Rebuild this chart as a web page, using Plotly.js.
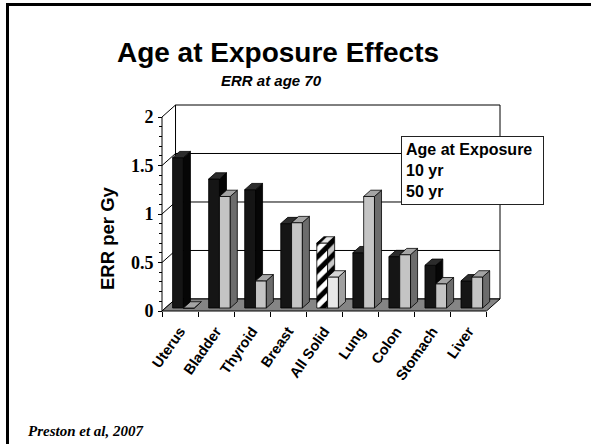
<!DOCTYPE html>
<html>
<head>
<meta charset="utf-8">
<script src="https://cdn.plot.ly/plotly-3.0.1.min.js"></script>
<style>html,body{margin:0;padding:0;background:#fff;}#chart{width:591px;height:444px;}</style>
</head>
<body>
<div id="chart"></div>
<script>
// ---- data ----
const categories = ["Uterus", "Bladder", "Thyroid", "Breast", "All Solid", "Lung", "Colon", "Stomach", "Liver"];
const err10yr = [1.55, 1.33, 1.22, 0.87, 0.67, 0.57, 0.53, 0.44, 0.28];
const err50yr = [0.00, 1.15, 0.28, 0.88, 0.32, 1.15, 0.55, 0.25, 0.32];
const yTickVals = [0, 0.5, 1, 1.5, 2];
const yTickText = ["0", "0.5", "1", "1.5", "2"];
const legendTitle = "Age at Exposure";
const seriesNames = ["10 yr", "50 yr"];

// ---- geometry of the pseudo-3D box (in axis units) ----
const N = categories.length;
const DX = 0.375, DY = 0.124;          // wall depth offset
const OX = 0.25 * DX, OY = 0.25 * DY;   // bar front face depth
const SX = 0.52 * DX, SY = 0.52 * DY;   // bar depth
const BW = 0.3;
const L = 160, T = 103, PW = 342, PH = 210;
const px2x = p => (p - L) / PW;
const py2y = p => (T + PH - p) / PH;
const allSolid = categories.indexOf("All Solid");

const series = [
  {name: seriesNames[0], vals: err10yr, left: 0.2, front: "#151515", side: "#060606", top: "#2c2c2c", z: 1,
   special: {front: "#ffffff", side: "#c8c8c8", top: "#e6e6e6", hatch: true}},
  {name: seriesNames[1], vals: err50yr, left: 0.5, front: "#c4c4c4", side: "#6c6c6c", top: "#a4a4a4", z: 3,
   special: {front: "#e8e8e8", side: "#a0a0a0", top: "#d4d4d4", hatch: false}}
];

const traces = [];
const hatch = {shape: "/", fgcolor: "#000", size: 10, solidity: 0.5, fillmode: "replace"};
series.forEach(s => {
  const idx = s.vals.map((v, k) => k).filter(k => !(k === allSolid && s.special.hatch));
  traces.push({
    type: "bar", name: s.name,
    x: idx.map(k => k + s.left + OX + BW / 2),
    y: idx.map(k => s.vals[k]), base: OY, width: BW,
    marker: {color: idx.map(k => k === allSolid ? s.special.front : s.front), line: {color: "#000", width: 0.8}},
    zorder: s.z, showlegend: false, hoverinfo: "skip"
  });
  if (s.special.hatch) {
    traces.push({
      type: "bar", name: s.name + " " + categories[allSolid],
      x: [allSolid + s.left + OX + BW / 2], y: [s.vals[allSolid]], base: OY, width: BW,
      marker: {color: "#ffffff", line: {color: "#000", width: 0.8},
               pattern: Object.assign({}, hatch, {bgcolor: "#ffffff"})},
      zorder: s.z, showlegend: false, hoverinfo: "skip"
    });
  }
  s.vals.forEach((v, k) => {
    const sp = k === allSolid;
    const xr = k + s.left + OX + BW, xl = xr - BW, t = OY + v;
    const side = {
      type: "scatter", mode: "lines", fill: "toself",
      x: [xr, xr + SX, xr + SX, xr, xr],
      y: [OY, OY + SY, t + SY, t, OY],
      fillcolor: sp ? s.special.side : s.side,
      line: {color: "#000", width: 0.8}, zorder: s.z + 1, showlegend: false, hoverinfo: "skip"
    };
    const top = {
      type: "scatter", mode: "lines", fill: "toself",
      x: [xl, xr, xr + SX, xl + SX, xl],
      y: [t, t, t + SY, t + SY, t],
      fillcolor: sp ? s.special.top : s.top,
      line: {color: "#000", width: 0.8}, zorder: s.z + 1, showlegend: false, hoverinfo: "skip"
    };
    if (sp && s.special.hatch) {
      side.fillpattern = Object.assign({}, hatch, {bgcolor: s.special.side});
      top.fillpattern = Object.assign({}, hatch, {bgcolor: s.special.top});
    }
    traces.push(side, top);
  });
});

// ---- walls, floor and grid ----
const shapes = [];
shapes.push({type: "rect", xref: "x", yref: "y", x0: DX, y0: DY, x1: N + DX, y1: 2 + DY,
  fillcolor: "#fff", line: {color: "#000", width: 1}, layer: "below"});
yTickVals.slice(1, -1).forEach(v => shapes.push({type: "line", xref: "x", yref: "y",
  x0: DX, y0: v + DY, x1: N + DX, y1: v + DY, line: {color: "#000", width: 1}, layer: "below"}));
yTickVals.forEach(v => shapes.push({type: "line", xref: "x", yref: "y",
  x0: 0, y0: v, x1: DX, y1: v + DY, line: {color: "#000", width: 1}, layer: "below"}));
shapes.push({type: "path", xref: "x", yref: "y",
  path: `M 0 0 L ${N} 0 L ${N + DX} ${DY} L ${DX} ${DY} Z`,
  fillcolor: "#858585", line: {color: "#000", width: 1}, layer: "below"});
shapes.push({type: "line", xref: "x", yref: "y", x0: 0, y0: 0, x1: 0, y1: 2,
  line: {color: "#000", width: 1}, layer: "below"});
// slide frame
shapes.push({type: "path", xref: "paper", yref: "paper",
  path: `M ${px2x(7.5)} ${py2y(450)} L ${px2x(7.5)} ${py2y(4.5)} L ${px2x(600)} ${py2y(4.5)}`,
  line: {color: "#000", width: 3}});

const sans = "Liberation Sans, Arial, sans-serif";
const serif = "Liberation Serif, Times New Roman, serif";

const minorY = [];
for (let i = 1; i < 20; i++) if (i % 5 !== 0) minorY.push(i / 10);

const layout = {
  width: 591, height: 444,
  margin: {l: L, r: 591 - L - PW, t: T, b: 444 - T - PH, pad: 0},
  paper_bgcolor: "#fff", plot_bgcolor: "rgba(0,0,0,0)",
  barmode: "overlay", showlegend: false,
  title: {text: "Age at Exposure Effects", xref: "container", yref: "container",
    x: 278 / 591, xanchor: "center", y: 1 - 52 / 444, yanchor: "middle",
    font: {family: sans, size: 28, weight: "bold", color: "#000"}},
  xaxis: {type: "linear", range: [-0.0556, N + DX + 0.0556], anchor: "free", position: 2 / PH,
    tickmode: "array", tickvals: categories.map((c, k) => k + 0.5), ticktext: categories,
    ticks: "", tickangle: -55, ticklabelstandoff: 8,
    tickfont: {family: sans, size: 14.5, weight: "bold", color: "#000"},
    minor: {tickmode: "array", tickvals: categories.map((c, k) => k).concat([N]), ticks: "outside", ticklen: 5, tickcolor: "#000", tickwidth: 1, showgrid: false},
    showgrid: false, zeroline: false, showline: false, fixedrange: true, automargin: false},
  yaxis: {type: "linear", range: [-0.0206, 2 + DY + 0.0206], anchor: "free", position: 2 / PW,
    tickmode: "array", tickvals: yTickVals, ticktext: yTickText,
    ticks: "outside", ticklen: 4, tickcolor: "#000", ticklabelstandoff: 1,
    tickfont: {family: serif, size: 18, weight: "bold", color: "#000"},
    minor: {tickmode: "array", tickvals: minorY, ticks: "outside", ticklen: 3, tickcolor: "#000", showgrid: false},
    showgrid: false, zeroline: false, showline: false, fixedrange: true, automargin: false},
  shapes: shapes,
  annotations: [
    {xref: "paper", yref: "paper", x: px2x(271), y: py2y(81), xanchor: "center", yanchor: "middle",
     text: "ERR at age 70", showarrow: false,
     font: {family: sans, size: 15, weight: "bold", style: "italic", color: "#000"}},
    {xref: "paper", yref: "paper", x: px2x(107), y: py2y(238), xanchor: "center", yanchor: "middle",
     text: "ERR per Gy", textangle: -90, showarrow: false,
     font: {family: sans, size: 18.5, weight: "bold", color: "#000"}},
    {xref: "paper", yref: "paper", x: px2x(26), y: py2y(431), xanchor: "left", yanchor: "middle",
     text: "Preston et al, 2007", showarrow: false,
     font: {family: serif, size: 15, weight: "bold", style: "italic", color: "#000"}},
    {xref: "paper", yref: "paper", x: px2x(401), y: py2y(136), xanchor: "left", yanchor: "top",
     text: [legendTitle].concat(seriesNames).join("<br>"), align: "left", showarrow: false,
     width: 133,
     bgcolor: "#fff", bordercolor: "#222", borderwidth: 1, borderpad: 4,
     font: {family: sans, size: 16, weight: "bold", color: "#000"}}
  ]
};

Plotly.newPlot("chart", traces, layout, {staticPlot: true, displayModeBar: false});
</script>
</body>
</html>
